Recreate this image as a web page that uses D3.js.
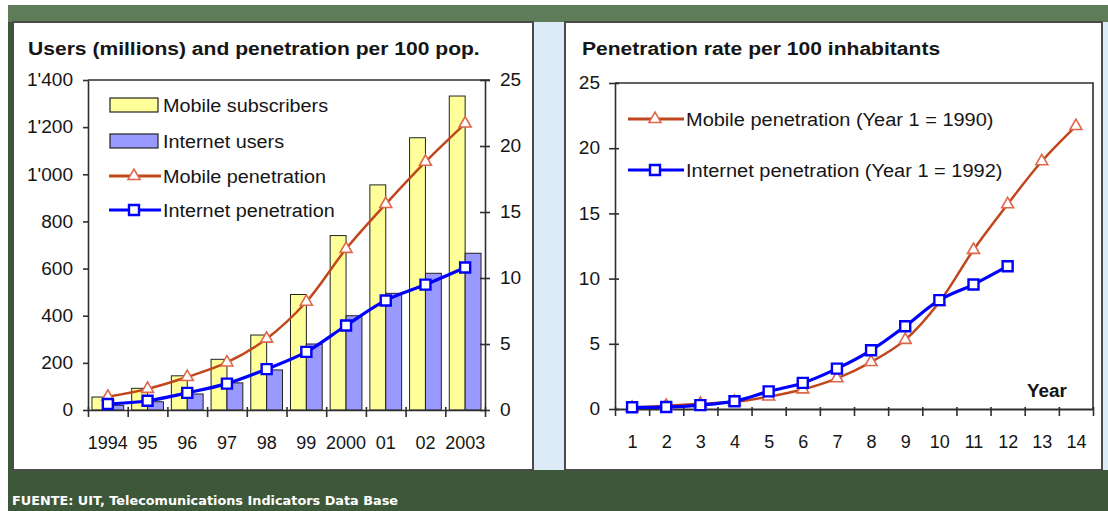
<!DOCTYPE html>
<html>
<head>
<meta charset="utf-8">
<script src="https://cdn.jsdelivr.net/npm/d3@7"></script>
<style>
  html, body { margin: 0; padding: 0; background: #fff; }
  svg { display: block; }
  text { font-family: "Liberation Sans", Arial, sans-serif; fill: #151515; }
</style>
</head>
<body>
<script>
// ---- Left chart: users (millions) and penetration per 100 pop. ----
const years = ["1994", "95", "96", "97", "98", "99", "2000", "01", "02", "2003"];
const mobileSubscribers = [55, 92, 145, 215, 318, 490, 740, 955, 1155, 1332];
const internetUsers = [20, 35, 68, 115, 170, 280, 400, 495, 580, 665];
const mobilePenetration = [1.0, 1.6, 2.5, 3.6, 5.4, 8.2, 12.2, 15.6, 18.8, 21.7];
const internetPenetration = [0.45, 0.7, 1.3, 2.0, 3.1, 4.4, 6.4, 8.3, 9.5, 10.8];
const usersTicks = [0, 200, 400, 600, 800, 1000, 1200, 1400];
const rateTicks = [0, 5, 10, 15, 20, 25];

// ---- Right chart: penetration by year since launch ----
const periods = [1, 2, 3, 4, 5, 6, 7, 8, 9, 10, 11, 12, 13, 14];
const mobileByYear = [0.1, 0.25, 0.4, 0.55, 0.95, 1.5, 2.35, 3.6, 5.3, 8.2, 12.2, 15.7, 19.0, 21.7];
const internetByYear = [0.13, 0.15, 0.3, 0.6, 1.35, 2.0, 3.1, 4.5, 6.35, 8.35, 9.55, 10.95];

const legendLeft = ["Mobile subscribers", "Internet users", "Mobile penetration", "Internet penetration"];
const legendRight = ["Mobile penetration (Year 1 = 1990)", "Internet penetration (Year 1 = 1992)"];

const W = 1108, H = 511;
const COL = {
  yellow: "#ffff99", lilac: "#9999ff", mobile: "#c0461c", mobileMark: "#e0664a",
  internet: "#0000ff", axis: "#2e2e2e", green: "#3d5739", greenTop: "#5f7c58", gap: "#dcebf7"
};

const svg = d3.select("body").append("svg").attr("width", W).attr("height", H);

// stretch text horizontally by factor k (the lettering is slightly wide)
function stretch(sel, k) {
  sel.each(function () {
    const l = this.getComputedTextLength();
    this.setAttribute("textLength", l * k);
    this.setAttribute("lengthAdjust", "spacingAndGlyphs");
  });
}

// ---- backdrop ----
svg.append("rect").attr("width", W).attr("height", H).attr("fill", "#fff");
svg.append("rect").attr("x", 8).attr("y", 5).attr("width", W - 8).attr("height", H - 5).attr("fill", COL.green);
svg.append("rect").attr("x", 8).attr("y", 5).attr("width", W - 8).attr("height", 17).attr("fill", COL.greenTop);
svg.append("rect").attr("x", 533).attr("y", 22).attr("width", 32).attr("height", 448).attr("fill", COL.gap);
svg.append("rect").attr("x", 1102).attr("y", 22).attr("width", 6).attr("height", 448).attr("fill", COL.gap);
svg.append("rect").attr("x", 13).attr("y", 22).attr("width", 520).attr("height", 448)
  .attr("fill", "#fff").attr("stroke", "#4a4a4a").attr("stroke-width", 2);
svg.append("rect").attr("x", 565).attr("y", 22).attr("width", 537).attr("height", 448)
  .attr("fill", "#fff").attr("stroke", "#4a4a4a").attr("stroke-width", 2);

svg.append("text").attr("x", 12).attr("y", 505)
  .style("font-family", "'DejaVu Sans', Verdana, sans-serif").style("font-weight", "bold")
  .style("font-size", "12.5px").style("fill", "#fff")
  .attr("textLength", 386).attr("lengthAdjust", "spacingAndGlyphs")
  .text("FUENTE: UIT, Telecomunications Indicators Data Base");

const fmt = d3.formatLocale({ decimal: ".", thousands: "'", grouping: [3], currency: ["", ""] }).format(",");

function styleAxis(g) {
  g.selectAll("path.domain").attr("stroke", COL.axis).attr("stroke-width", 1.6);
  g.selectAll(".tick line").attr("stroke", COL.axis).attr("stroke-width", 1.6);
  g.selectAll(".tick text").style("font-size", "18px").attr("fill", "#151515")
    .style("font-family", "'Liberation Sans', Arial, sans-serif");
}

// ================= LEFT CHART =================
const L = { x0: 88, x1: 485, y0: 410, y1: 80 };
const xL = d3.scaleBand().domain(years).range([L.x0, L.x1]).paddingInner(0.2).paddingOuter(0.1);
const xLb = d3.scaleLinear().domain([0, years.length]).range([L.x0, L.x1]);
const yUsers = d3.scaleLinear().domain([0, 1400]).range([L.y0, L.y1]);
const yRate = d3.scaleLinear().domain([0, 25]).range([L.y0, L.y1]);
const half = xL.bandwidth() / 2;
const cx = d => xL(d) + half;

const gl = svg.append("g");
gl.append("text").attr("x", 28).attr("y", 55).style("font-size", "18px").style("font-weight", "bold")
  .text("Users (millions) and penetration per 100 pop.").call(stretch, 1.17);

// frame top
gl.append("line").attr("x1", L.x0).attr("x2", L.x1 + 5).attr("y1", L.y1).attr("y2", L.y1)
  .attr("stroke", COL.axis).attr("stroke-width", 1.6);

// bars
const barsData = years.map((y, i) => ({ y, m: mobileSubscribers[i], n: internetUsers[i] }));
gl.selectAll("rect.mob").data(barsData).join("rect").attr("class", "mob")
  .attr("x", d => xL(d.y)).attr("width", half).attr("y", d => yUsers(d.m))
  .attr("height", d => yUsers(0) - yUsers(d.m))
  .attr("fill", COL.yellow).attr("stroke", "#222").attr("stroke-width", 1);
gl.selectAll("rect.net").data(barsData).join("rect").attr("class", "net")
  .attr("x", d => xL(d.y) + half).attr("width", half).attr("y", d => yUsers(d.n))
  .attr("height", d => yUsers(0) - yUsers(d.n))
  .attr("fill", COL.lilac).attr("stroke", "#222").attr("stroke-width", 1);

// axes
const axL = gl.append("g").attr("transform", `translate(${L.x0},0)`)
  .call(d3.axisLeft(yUsers).tickValues(usersTicks).tickFormat(fmt).tickSize(5).tickSizeOuter(0).tickPadding(10));
styleAxis(axL);
axL.selectAll(".tick text").call(stretch, 1.06);
const axR = gl.append("g").attr("transform", `translate(${L.x1},0)`)
  .call(d3.axisRight(yRate).tickValues(rateTicks).tickSize(5).tickSizeOuter(0).tickPadding(10));
styleAxis(axR);
axR.selectAll(".tick line").attr("x1", -5);
axR.selectAll(".tick text").call(stretch, 1.06);
const axB = gl.append("g").attr("transform", `translate(0,${L.y0})`)
  .call(d3.axisBottom(xLb).ticks(years.length).tickFormat("").tickSize(7).tickSizeOuter(0));
styleAxis(axB);
axB.selectAll(".tick line").attr("y1", -3);
const axBl = gl.append("g").attr("transform", `translate(0,${L.y0})`)
  .call(d3.axisBottom(xL).tickSize(0).tickPadding(26));
styleAxis(axBl);
axBl.select("path.domain").remove();

// penetration lines
const curve = d3.curveCatmullRom.alpha(0.5);
const lineL = d3.line().x(d => cx(d.y)).y(d => yRate(d.v)).curve(curve);
const mobPts = years.map((y, i) => ({ y, v: mobilePenetration[i] }));
const netPts = years.map((y, i) => ({ y, v: internetPenetration[i] }));
const tri = d3.symbol().type(d3.symbolTriangle).size(62);
const sq = d3.symbol().type(d3.symbolSquare).size(100);

gl.append("path").datum(mobPts).attr("d", lineL).attr("fill", "none")
  .attr("stroke", COL.mobile).attr("stroke-width", 2.5);
gl.selectAll("path.tri").data(mobPts).join("path").attr("class", "tri").attr("d", tri)
  .attr("transform", d => `translate(${cx(d.y)},${yRate(d.v)})`)
  .attr("fill", "#fff").attr("stroke", COL.mobileMark).attr("stroke-width", 1.6);
gl.append("path").datum(netPts).attr("d", lineL).attr("fill", "none")
  .attr("stroke", COL.internet).attr("stroke-width", 3.2);
gl.selectAll("path.sq").data(netPts).join("path").attr("class", "sq").attr("d", sq)
  .attr("transform", d => `translate(${cx(d.y)},${yRate(d.v)})`)
  .attr("fill", "#fff").attr("stroke", COL.internet).attr("stroke-width", 2.4);

// legend
const legY = [105, 141, 176, 210];
const lg = gl.append("g");
lg.append("rect").attr("x", 110).attr("y", legY[0] - 7).attr("width", 48).attr("height", 14)
  .attr("fill", COL.yellow).attr("stroke", "#222").attr("stroke-width", 1.2);
lg.append("rect").attr("x", 110).attr("y", legY[1] - 7).attr("width", 48).attr("height", 14)
  .attr("fill", COL.lilac).attr("stroke", "#222").attr("stroke-width", 1.2);
lg.append("line").attr("x1", 109).attr("x2", 161).attr("y1", legY[2]).attr("y2", legY[2])
  .attr("stroke", COL.mobile).attr("stroke-width", 3);
lg.append("path").attr("d", tri).attr("transform", `translate(134,${legY[2]})`)
  .attr("fill", "#fff").attr("stroke", COL.mobileMark).attr("stroke-width", 1.6);
lg.append("line").attr("x1", 109).attr("x2", 161).attr("y1", legY[3]).attr("y2", legY[3])
  .attr("stroke", COL.internet).attr("stroke-width", 3.2);
lg.append("path").attr("d", sq).attr("transform", `translate(134,${legY[3]})`)
  .attr("fill", "#fff").attr("stroke", COL.internet).attr("stroke-width", 2.4);
lg.selectAll("text").data(legendLeft).join("text")
  .attr("x", 163).attr("y", (d, i) => legY[i] + 6.5).style("font-size", "18px").text(d => d)
  .call(stretch, 1.1);

// ================= RIGHT CHART =================
const R = { x0: 615, x1: 1093, y0: 409, y1: 83 };
const xR = d3.scalePoint().domain(periods).range([R.x0, R.x1]).padding(0.5);
const xRb = d3.scaleLinear().domain([0, periods.length]).range([R.x0, R.x1]);
const yR = d3.scaleLinear().domain([0, 25]).range([R.y0, R.y1]);

const gr = svg.append("g");
gr.append("text").attr("x", 582).attr("y", 55).style("font-size", "18px").style("font-weight", "bold")
  .text("Penetration rate per 100 inhabitants").call(stretch, 1.17);

gr.append("path").attr("d", `M${R.x0},${R.y1}H${R.x1}V${R.y0}`).attr("fill", "none")
  .attr("stroke", COL.axis).attr("stroke-width", 1.6);

const ayR = gr.append("g").attr("transform", `translate(${R.x0},0)`)
  .call(d3.axisLeft(yR).tickValues(rateTicks).tickSize(6).tickSizeOuter(0).tickPadding(9));
styleAxis(ayR);
ayR.selectAll(".tick line").attr("x2", -6).attr("x1", 4);
ayR.selectAll(".tick text").call(stretch, 1.06);
const axRb = gr.append("g").attr("transform", `translate(0,${R.y0})`)
  .call(d3.axisBottom(xRb).ticks(periods.length).tickFormat("").tickSize(7).tickSizeOuter(0));
styleAxis(axRb);
axRb.selectAll(".tick line").attr("y1", -2);
axRb.select("path.domain").attr("stroke-width", 2.2);
const axRl = gr.append("g").attr("transform", `translate(0,${R.y0})`)
  .call(d3.axisBottom(xR).tickSize(0).tickPadding(26));
styleAxis(axRl);
axRl.select("path.domain").remove();

gr.append("text").attr("x", 1047).attr("y", 397).attr("text-anchor", "middle")
  .style("font-size", "18px").style("font-weight", "bold").text("Year").call(stretch, 1.05);

const lineR = d3.line().x(d => xR(d.p)).y(d => yR(d.v)).curve(curve);
const mobR = periods.map((p, i) => ({ p, v: mobileByYear[i] }));
const netR = internetByYear.map((v, i) => ({ p: periods[i], v }));

gr.append("path").datum(mobR).attr("d", lineR).attr("fill", "none")
  .attr("stroke", COL.mobile).attr("stroke-width", 2.5);
gr.selectAll("path.tri").data(mobR).join("path").attr("class", "tri").attr("d", tri)
  .attr("transform", d => `translate(${xR(d.p)},${yR(d.v)})`)
  .attr("fill", "#fff").attr("stroke", COL.mobileMark).attr("stroke-width", 1.6);
gr.append("path").datum(netR).attr("d", lineR).attr("fill", "none")
  .attr("stroke", COL.internet).attr("stroke-width", 3.2);
gr.selectAll("path.sq").data(netR).join("path").attr("class", "sq").attr("d", sq)
  .attr("transform", d => `translate(${xR(d.p)},${yR(d.v)})`)
  .attr("fill", "#fff").attr("stroke", COL.internet).attr("stroke-width", 2.4);

const legRY = [119, 170];
gr.append("line").attr("x1", 628).attr("x2", 684).attr("y1", legRY[0]).attr("y2", legRY[0])
  .attr("stroke", COL.mobile).attr("stroke-width", 3);
gr.append("path").attr("d", tri).attr("transform", `translate(655,${legRY[0]})`)
  .attr("fill", "#fff").attr("stroke", COL.mobileMark).attr("stroke-width", 1.6);
gr.append("line").attr("x1", 628).attr("x2", 684).attr("y1", legRY[1]).attr("y2", legRY[1])
  .attr("stroke", COL.internet).attr("stroke-width", 3.2);
gr.append("path").attr("d", sq).attr("transform", `translate(655,${legRY[1]})`)
  .attr("fill", "#fff").attr("stroke", COL.internet).attr("stroke-width", 2.4);
gr.selectAll("text.leg").data(legendRight).join("text").attr("class", "leg")
  .attr("x", 686).attr("y", (d, i) => legRY[i] + 6.5).style("font-size", "18px").text(d => d)
  .call(stretch, 1.11);
</script>
</body>
</html>
